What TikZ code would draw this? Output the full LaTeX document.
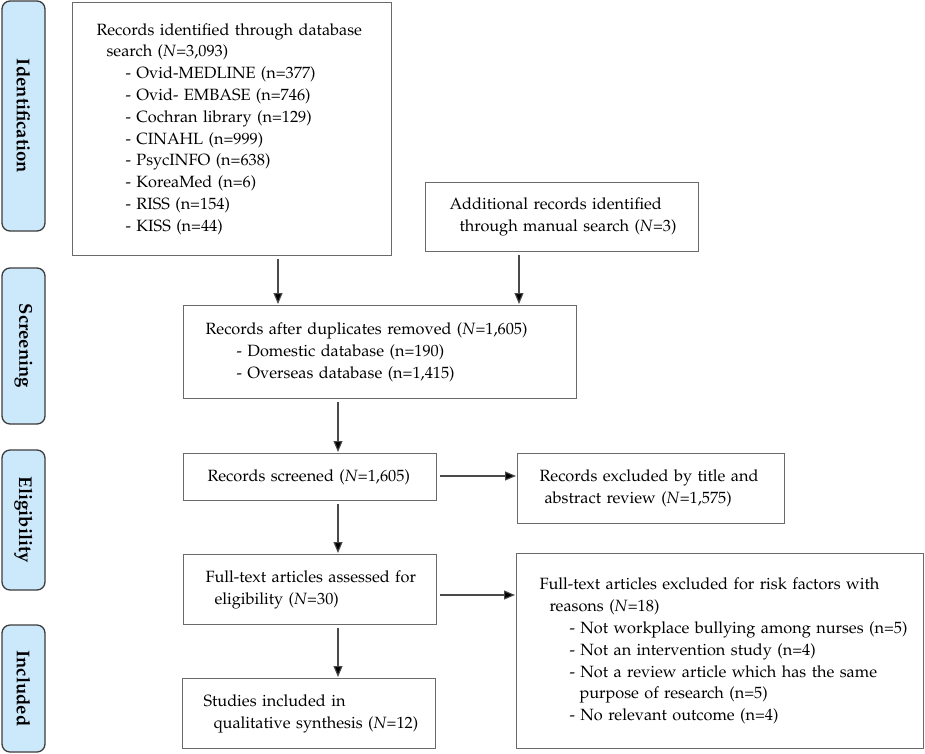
\documentclass[tikz,border=0pt]{standalone}
\usepackage[T1]{fontenc}
\usepackage{mathpazo}
\usetikzlibrary{arrows.meta,calc}
\definecolor{stagefill}{HTML}{CCE8FB}
\definecolor{stageline}{HTML}{3C3C3C}
\definecolor{boxline}{HTML}{6A6A6A}
\definecolor{arrline}{HTML}{4A4A4A}
\newcommand\NN{\textit{N}}
\newcommand\TLine[2][0pt]{\hspace*{#1}\mbox{#2}}
\tikzset{
  stage/.style={draw=stageline, fill=stagefill, line width=1.3pt, rounded corners=8pt,
    rotate=-90, minimum height=43pt, inner sep=0pt, font=\fontsize{18.5}{20}\selectfont\bfseries},
  box/.style={draw=boxline, line width=1.1pt, anchor=north west, align=left,
    inner ysep=0pt, font=\fontsize{16.3}{21.8}\selectfont},
  arr/.style={draw=arrline, line width=1.1pt, -{Triangle[length=11pt,width=9pt,fill=black]},
    shorten <=3pt, shorten >=1pt}
}
\begin{document}
\begin{tikzpicture}[x=1pt,y=-1pt]
\useasboundingbox (0,0) rectangle (925,753);
% stage labels
\node[stage, minimum width=230pt] (sid) at (23.5,116) {Identification};
\node[stage, minimum width=156pt] (ssc) at (23.5,346) {Screening};
\node[stage, minimum width=140pt] (sel) at (23.5,520) {Eligibility};
\node[stage, minimum width=127pt] (sin) at (23.5,688.5) {Included};
% boxes
\node[box, minimum width=319pt, minimum height=253pt, text width=271pt, inner xsep=24pt] (b1) at (72,2) {%
\TLine{Records identified through database}\\
\TLine[10pt]{search (\NN=3,093)}\\
\TLine[29pt]{- Ovid-MEDLINE (n=377)}\\
\TLine[29pt]{- Ovid- EMBASE (n=746)}\\
\TLine[29pt]{- Cochran library (n=129)}\\
\TLine[29pt]{- CINAHL (n=999)}\\
\TLine[29pt]{- PsycINFO (n=638)}\\
\TLine[29pt]{- KoreaMed (n=6)}\\
\TLine[29pt]{- RISS (n=154)}\\
\TLine[29pt]{- KISS (n=44)}};
\node[box, minimum width=273pt, minimum height=69pt, text width=225pt, inner xsep=24pt] (add) at (425,182) {%
\TLine{Additional records identified}\\
\TLine[10pt]{through manual search (\NN=3)}};
\node[box, minimum width=393pt, minimum height=93pt, text width=349pt, inner xsep=22pt] (scr) at (183,305) {%
\TLine{Records after duplicates removed (\NN=1,605)}\\
\TLine[31pt]{- Domestic database (n=190)}\\
\TLine[31pt]{- Overseas database (n=1,415)}};
\node[box, minimum width=253pt, minimum height=47pt, text width=205pt, inner xsep=24pt] (scd) at (183,453) {%
\TLine{Records screened (\NN=1,605)}};
\node[box, minimum width=267pt, minimum height=70pt, text width=223pt, inner xsep=22pt] (ex1) at (517,453) {%
\TLine{Records excluded by title and}\\
\TLine[5pt]{abstract review (\NN=1,575)}};
\node[box, minimum width=253pt, minimum height=70pt, text width=209pt, inner xsep=22pt] (ft) at (183,554) {%
\TLine{Full-text articles assessed for}\\
\TLine[9pt]{eligibility (\NN=30)}};
\node[box, minimum width=253pt, minimum height=70pt, text width=211pt, inner xsep=21pt] (inc) at (182,678) {%
\TLine{Studies included in}\\
\TLine[10pt]{qualitative synthesis (\NN=12)}};
\node[box, minimum width=407pt, minimum height=195pt, text width=361pt, inner xsep=23pt] (ex2) at (516,553) {%
\TLine{Full-text articles excluded for risk factors with}\\
\TLine[10pt]{reasons (\NN=18)}\\
\TLine[30pt]{- Not workplace bullying among nurses (n=5)}\\
\TLine[30pt]{- Not an intervention study (n=4)}\\
\TLine[30pt]{- Not a review article which has the same}\\
\TLine[40pt]{purpose of research (n=5)}\\
\TLine[30pt]{- No relevant outcome (n=4)}};
% connector guides
\coordinate (v1) at (278,0);
\coordinate (v2) at (519,0);
\coordinate (v3) at (338,0);
\coordinate (h1) at (0,476);
\coordinate (h2) at (0,595);
% connectors
\draw[arr] (b1.south -| v1) -- (scr.north -| v1);
\draw[arr] (add.south -| v2) -- (scr.north -| v2);
\draw[arr] (scr.south -| v3) -- (scd.north -| v3);
\draw[arr] (scd.east |- h1) -- (ex1.west |- h1);
\draw[arr] (scd.south -| v3) -- (ft.north -| v3);
\draw[arr] (ft.east |- h2) -- (ex2.west |- h2);
\draw[arr] (ft.south -| v3) -- (inc.north -| v3);
\end{tikzpicture}
\end{document}
